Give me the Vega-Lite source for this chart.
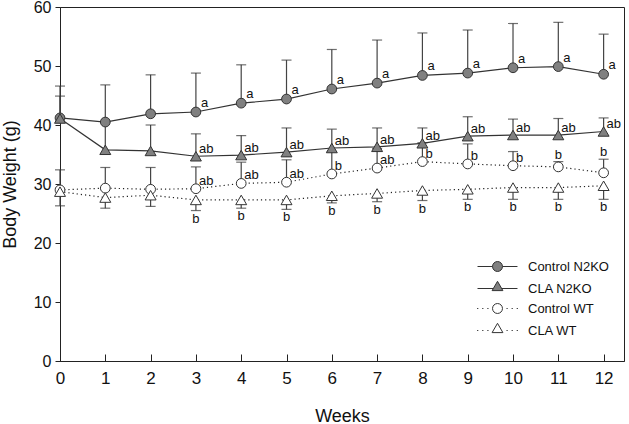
{
  "$schema": "https://vega.github.io/schema/vega-lite/v6.json",
  "width": 564,
  "height": 354,
  "autosize": {"type": "none"},
  "padding": {"left": 60, "top": 7, "right": 5, "bottom": 63},
  "config": {
    "font": "Liberation Sans",
    "view": {"stroke": "#222", "strokeWidth": 1},
    "axis": {
      "grid": false,
      "domainColor": "#222",
      "tickColor": "#222",
      "labelColor": "#111",
      "titleColor": "#111",
      "labelFont": "Liberation Sans",
      "titleFont": "Liberation Sans",
      "labelFontSize": 17,
      "titleFontSize": 18,
      "titleFontWeight": "normal"
    },
    "text": {"font": "Liberation Sans", "fontSize": 13, "color": "#111"}
  },
  "data": {
    "values": [
      {"series": "Control N2KO", "week": 0, "mean": 41.2, "err": 46.6, "sig": ""},
      {"series": "Control N2KO", "week": 1, "mean": 40.5, "err": 46.8, "sig": ""},
      {"series": "Control N2KO", "week": 2, "mean": 41.9, "err": 48.5, "sig": ""},
      {"series": "Control N2KO", "week": 3, "mean": 42.2, "err": 48.8, "sig": "a"},
      {"series": "Control N2KO", "week": 4, "mean": 43.7, "err": 50.2, "sig": "a"},
      {"series": "Control N2KO", "week": 5, "mean": 44.4, "err": 51.0, "sig": "a"},
      {"series": "Control N2KO", "week": 6, "mean": 46.1, "err": 52.8, "sig": "a"},
      {"series": "Control N2KO", "week": 7, "mean": 47.1, "err": 54.4, "sig": "a"},
      {"series": "Control N2KO", "week": 8, "mean": 48.4, "err": 55.6, "sig": "a"},
      {"series": "Control N2KO", "week": 9, "mean": 48.8, "err": 56.1, "sig": "a"},
      {"series": "Control N2KO", "week": 10, "mean": 49.7, "err": 57.2, "sig": "a"},
      {"series": "Control N2KO", "week": 11, "mean": 49.9, "err": 57.4, "sig": "a"},
      {"series": "Control N2KO", "week": 12, "mean": 48.6, "err": 55.4, "sig": "a"},
      {"series": "CLA N2KO", "week": 0, "mean": 41.1, "err": 44.9, "sig": ""},
      {"series": "CLA N2KO", "week": 1, "mean": 35.8, "err": 40.5, "sig": ""},
      {"series": "CLA N2KO", "week": 2, "mean": 35.6, "err": 40.0, "sig": ""},
      {"series": "CLA N2KO", "week": 3, "mean": 34.7, "err": 38.5, "sig": "ab"},
      {"series": "CLA N2KO", "week": 4, "mean": 34.9, "err": 38.2, "sig": "ab"},
      {"series": "CLA N2KO", "week": 5, "mean": 35.4, "err": 39.5, "sig": "ab"},
      {"series": "CLA N2KO", "week": 6, "mean": 36.1, "err": 39.3, "sig": "ab"},
      {"series": "CLA N2KO", "week": 7, "mean": 36.3, "err": 39.5, "sig": "ab"},
      {"series": "CLA N2KO", "week": 8, "mean": 36.9, "err": 39.5, "sig": "ab"},
      {"series": "CLA N2KO", "week": 9, "mean": 38.1, "err": 41.4, "sig": "ab"},
      {"series": "CLA N2KO", "week": 10, "mean": 38.3, "err": 41.0, "sig": "ab"},
      {"series": "CLA N2KO", "week": 11, "mean": 38.3, "err": 41.1, "sig": "ab"},
      {"series": "CLA N2KO", "week": 12, "mean": 38.9, "err": 41.2, "sig": "ab"},
      {"series": "Control WT", "week": 0, "mean": 29.0, "err": 32.4, "sig": ""},
      {"series": "Control WT", "week": 1, "mean": 29.3, "err": 32.8, "sig": ""},
      {"series": "Control WT", "week": 2, "mean": 29.1, "err": 32.8, "sig": ""},
      {"series": "Control WT", "week": 3, "mean": 29.2, "err": 32.9, "sig": "ab"},
      {"series": "Control WT", "week": 4, "mean": 30.1, "err": 33.7, "sig": "ab"},
      {"series": "Control WT", "week": 5, "mean": 30.3, "err": 34.1, "sig": "ab"},
      {"series": "Control WT", "week": 6, "mean": 31.7, "err": 35.5, "sig": "b"},
      {"series": "Control WT", "week": 7, "mean": 32.7, "err": 36.0, "sig": "ab"},
      {"series": "Control WT", "week": 8, "mean": 33.8, "err": 37.0, "sig": "b"},
      {"series": "Control WT", "week": 9, "mean": 33.4, "err": 36.8, "sig": "b"},
      {"series": "Control WT", "week": 10, "mean": 33.1, "err": 35.5, "sig": "b"},
      {"series": "Control WT", "week": 11, "mean": 32.9, "err": 33.8, "sig": "b"},
      {"series": "Control WT", "week": 12, "mean": 31.9, "err": 34.2, "sig": "b"},
      {"series": "CLA WT", "week": 0, "mean": 28.7, "err": 26.3, "sig": ""},
      {"series": "CLA WT", "week": 1, "mean": 27.7, "err": 25.9, "sig": ""},
      {"series": "CLA WT", "week": 2, "mean": 28.1, "err": 26.2, "sig": ""},
      {"series": "CLA WT", "week": 3, "mean": 27.3, "err": 25.5, "sig": "b"},
      {"series": "CLA WT", "week": 4, "mean": 27.3, "err": 25.9, "sig": "b"},
      {"series": "CLA WT", "week": 5, "mean": 27.3, "err": 25.7, "sig": "b"},
      {"series": "CLA WT", "week": 6, "mean": 28.0, "err": 26.8, "sig": "b"},
      {"series": "CLA WT", "week": 7, "mean": 28.4, "err": 27.0, "sig": "b"},
      {"series": "CLA WT", "week": 8, "mean": 28.9, "err": 27.2, "sig": "b"},
      {"series": "CLA WT", "week": 9, "mean": 29.1, "err": 27.4, "sig": "b"},
      {"series": "CLA WT", "week": 10, "mean": 29.4, "err": 27.4, "sig": "b"},
      {"series": "CLA WT", "week": 11, "mean": 29.4, "err": 27.4, "sig": "b"},
      {"series": "CLA WT", "week": 12, "mean": 29.7, "err": 27.4, "sig": "b"}
    ]
  },
  "encoding": {
    "x": {
      "field": "week",
      "type": "quantitative",
      "title": "Weeks",
      "scale": {"domain": [0, 12.45], "nice": false, "zero": false},
      "axis": {"values": [0,1,2,3,4,5,6,7,8,9,10,11,12], "tickSize": -7, "labelPadding": 16, "titlePadding": 21, "labelFlush": false}
    }
  },
  "layer": [
    {
      "transform": [{"filter": "indexof(datum.series, 'N2KO') >= 0"}],
      "mark": {"type": "line", "color": "#333", "strokeWidth": 1.2},
      "encoding": {
        "y": {"field": "mean", "type": "quantitative", "title": "Body Weight (g)",
              "scale": {"domain": [0, 60], "nice": false},
              "axis": {"values": [0,10,20,30,40,50,60], "tickSize": 5, "labelPadding": 4, "titlePadding": 14, "labelFontSize": 16}},
        "detail": {"field": "series"}
      }
    },
    {
      "transform": [{"filter": "indexof(datum.series, 'WT') >= 0"}],
      "mark": {"type": "line", "color": "#222", "strokeWidth": 1.2, "strokeDash": [1.2, 3]},
      "encoding": {
        "y": {"field": "mean", "type": "quantitative", "title": "Body Weight (g)"},
        "detail": {"field": "series"}
      }
    },
    {
      "mark": {"type": "rule", "color": "#444", "strokeWidth": 1.2},
      "encoding": {
        "y": {"field": "mean", "type": "quantitative", "title": "Body Weight (g)"},
        "y2": {"field": "err"}
      }
    },
    {
      "mark": {"type": "tick", "orient": "horizontal", "color": "#333", "size": 10, "thickness": 1.2},
      "encoding": {
        "y": {"field": "err", "type": "quantitative", "title": "Body Weight (g)"}
      }
    },
    {
      "transform": [{"filter": "indexof(datum.series, 'Control') >= 0"}],
      "mark": {"type": "point", "shape": "circle", "size": 95, "filled": true, "stroke": "#333", "strokeWidth": 1, "opacity": 1},
      "encoding": {
        "y": {"field": "mean", "type": "quantitative", "title": "Body Weight (g)"},
        "fill": {"condition": {"test": "indexof(datum.series, 'N2KO') >= 0", "value": "#808080"}, "value": "#ffffff"}
      }
    },
    {
      "transform": [{"filter": "indexof(datum.series, 'CLA') >= 0"}],
      "mark": {"type": "point", "shape": "triangle-up", "size": 120, "filled": true, "stroke": "#333", "strokeWidth": 1, "opacity": 1},
      "encoding": {
        "y": {"field": "mean", "type": "quantitative", "title": "Body Weight (g)"},
        "fill": {"condition": {"test": "indexof(datum.series, 'N2KO') >= 0", "value": "#808080"}, "value": "#ffffff"}
      }
    },
    {
      "transform": [{"filter": "datum.series == 'Control N2KO' && datum.sig != ''"}],
      "mark": {"type": "text", "align": "left", "baseline": "middle", "dx": 5, "dy": -9},
      "encoding": {
        "y": {"field": "mean", "type": "quantitative", "title": "Body Weight (g)"},
        "text": {"field": "sig"}
      }
    },
    {
      "transform": [{"filter": "datum.series == 'CLA N2KO' && datum.sig != ''"}],
      "mark": {"type": "text", "align": "left", "baseline": "middle", "dx": 3, "dy": -7},
      "encoding": {
        "y": {"field": "mean", "type": "quantitative", "title": "Body Weight (g)"},
        "text": {"field": "sig"}
      }
    },
    {
      "transform": [{"filter": "datum.series == 'Control WT' && datum.sig != '' && datum.week < 11"}],
      "mark": {"type": "text", "align": "left", "baseline": "middle", "dx": 3, "dy": -8},
      "encoding": {
        "y": {"field": "mean", "type": "quantitative", "title": "Body Weight (g)"},
        "text": {"field": "sig"}
      }
    },
    {
      "transform": [{"filter": "datum.series == 'Control WT' && datum.week >= 11"}],
      "mark": {"type": "text", "align": "center", "baseline": "middle", "dy": -7},
      "encoding": {
        "y": {"field": "err", "type": "quantitative", "title": "Body Weight (g)"},
        "text": {"field": "sig"}
      }
    },
    {
      "transform": [{"filter": "datum.series == 'CLA WT' && datum.sig != ''"}],
      "mark": {"type": "text", "align": "center", "baseline": "middle", "dy": 8},
      "encoding": {
        "y": {"field": "err", "type": "quantitative", "title": "Body Weight (g)"},
        "text": {"field": "sig"}
      }
    },
    {
      "transform": [{"filter": "datum.week < 0"}],
      "mark": {"type": "point", "filled": true, "strokeWidth": 1},
      "encoding": {
        "y": {"field": "mean", "type": "quantitative", "title": "Body Weight (g)"},
        "shape": {
          "field": "series", "type": "nominal",
          "scale": {
            "domain": ["Control N2KO", "CLA N2KO", "Control WT", "CLA WT"],
            "range": [
              "M-3.33,0L-0.83,0M0.83,0L3.33,0M-0.83,0A0.83,0.83,0,1,1,0.83,0A0.83,0.83,0,1,1,-0.83,0Z",
              "M-3.33,0L-0.72,0M0.72,0L3.33,0M0,-1.2L0.9,0.35L-0.9,0.35Z",
              "M-3.4,0L-3.2,0M-2.55,0L-2.35,0M-1.7,0L-1.5,0M1.5,0L1.7,0M2.35,0L2.55,0M3.2,0L3.4,0M-0.83,0A0.83,0.83,0,1,1,0.83,0A0.83,0.83,0,1,1,-0.83,0Z",
              "M-3.4,0L-3.2,0M-2.55,0L-2.35,0M-1.7,0L-1.5,0M1.5,0L1.7,0M2.35,0L2.55,0M3.2,0L3.4,0M0,-1.2L0.9,0.35L-0.9,0.35Z"
            ]
          },
          "legend": {
            "title": null, "orient": "none", "legendX": 431, "legendY": 253, "padding": 0,
            "symbolSize": 144, "symbolStrokeWidth": 1, "symbolOpacity": 1,
            "labelFontSize": 13, "labelFont": "Liberation Sans", "labelColor": "#111", "labelOffset": 24, "rowPadding": 5
          }
        },
        "fill": {
          "field": "series", "type": "nominal",
          "scale": {
            "domain": ["Control N2KO", "CLA N2KO", "Control WT", "CLA WT"],
            "range": ["#808080", "#808080", "#ffffff", "#ffffff"]
          },
          "legend": {
            "title": null, "orient": "none", "legendX": 431, "legendY": 253, "padding": 0,
            "symbolSize": 144, "symbolStrokeWidth": 1, "symbolOpacity": 1,
            "labelFontSize": 13, "labelFont": "Liberation Sans", "labelColor": "#111", "labelOffset": 24, "rowPadding": 5
          }
        },
        "stroke": {
          "field": "series", "type": "nominal",
          "scale": {
            "domain": ["Control N2KO", "CLA N2KO", "Control WT", "CLA WT"],
            "range": ["#333333", "#333333", "#333333", "#333333"]
          },
          "legend": {
            "title": null, "orient": "none", "legendX": 431, "legendY": 253, "padding": 0,
            "symbolSize": 144, "symbolStrokeWidth": 1, "symbolOpacity": 1,
            "labelFontSize": 13, "labelFont": "Liberation Sans", "labelColor": "#111", "labelOffset": 24, "rowPadding": 5
          }
        }
      }
    }
  ]
}
